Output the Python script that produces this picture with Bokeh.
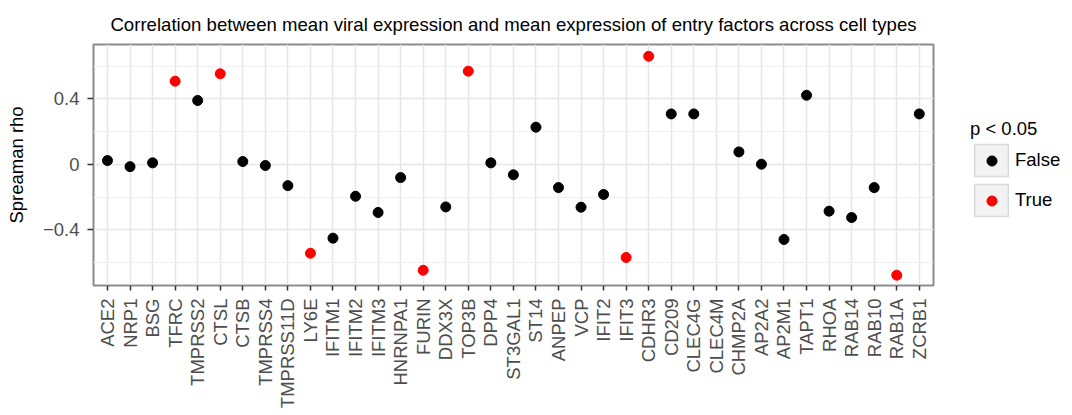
import numpy as np
from bokeh.plotting import figure
from bokeh.layouts import row
from bokeh.models import (ColumnDataSource, Range1d, FixedTicker, Legend, LegendItem)
from bokeh.embed import file_html
from bokeh.resources import INLINE

genes = ["ACE2", "NRP1", "BSG", "TFRC", "TMPRSS2", "CTSL", "CTSB", "TMPRSS4",
         "TMPRSS11D", "LY6E", "IFITM1", "IFITM2", "IFITM3", "HNRNPA1", "FURIN",
         "DDX3X", "TOP3B", "DPP4", "ST3GAL1", "ST14", "ANPEP", "VCP", "IFIT2",
         "IFIT3", "CDHR3", "CD209", "CLEC4G", "CLEC4M", "CHMP2A", "AP2A2",
         "AP2M1", "TAPT1", "RHOA", "RAB14", "RAB10", "RAB1A", "ZCRB1"]
rho = [0.023, -0.014, 0.009, 0.508, 0.390, 0.553, 0.017, -0.007,
       -0.130, -0.543, -0.451, -0.195, -0.294, -0.081, -0.647,
       -0.260, 0.569, 0.009, -0.064, 0.227, -0.142, -0.262, -0.184,
       -0.569, 0.660, 0.308, 0.308, np.nan, 0.076, 0.001,
       -0.459, 0.422, -0.286, -0.325, -0.142, -0.677, 0.308]
significant = [False, False, False, True, False, True, False, False,
               False, True, False, False, False, False, True,
               False, True, False, False, False, False, False, False,
               True, True, False, False, False, False, False,
               False, False, False, False, False, True, False]
y_ticks = [-0.4, 0, 0.4]
y_tick_labels = ["\u22120.4", "0", "0.4"]
y_minor = [-0.6, -0.2, 0.2, 0.6]
legend_title = "p < 0.05"
legend_labels = ["False", "True"]
legend_colors = ["black", "red"]

FONT = "Liberation Sans"
FS = "18.5px"
xs = np.arange(len(genes))
rho_a = np.array(rho, dtype=float)
sig_a = np.array(significant)

src_f = ColumnDataSource(dict(x=xs[~sig_a], y=rho_a[~sig_a]))
src_t = ColumnDataSource(dict(x=xs[sig_a], y=rho_a[sig_a]))

p = figure(width=941, height=415, output_backend="svg", toolbar_location=None,
           x_range=Range1d(-0.62, len(genes) - 1 + 0.63),
           y_range=Range1d(-0.740, 0.732),
           min_border_left=93, min_border_right=8, min_border_top=44,
           min_border_bottom=130)

p.title.text = "Correlation between mean viral expression and mean expression of entry factors across cell types"
p.title.align = "center"
p.title.text_font = FONT
p.title.text_font_size = "18.6px"
p.title.text_font_style = "normal"
p.title.text_color = "#000000"
p.title.standoff = 20
p.title.offset = 2

p.background_fill_color = "white"
p.outline_line_color = "#8C8C8C"
p.outline_line_width = 2

# grids
p.xgrid.ticker = FixedTicker(ticks=list(xs))
p.xgrid.grid_line_color = "#E6E6E6"
p.xgrid.grid_line_width = 1.5
p.ygrid.ticker = FixedTicker(ticks=y_ticks, minor_ticks=y_minor)
p.ygrid.grid_line_color = "#E6E6E6"
p.ygrid.grid_line_width = 1.5
p.ygrid.minor_grid_line_color = "#F0F0F0"
p.ygrid.minor_grid_line_width = 1.2

# axes
xa = p.xaxis[0]
xa.ticker = FixedTicker(ticks=list(xs))
xa.major_label_overrides = {int(i): g for i, g in zip(xs, genes)}
xa.major_label_orientation = np.pi / 2
ya = p.yaxis[0]
ya.ticker = FixedTicker(ticks=y_ticks)
ya.major_label_overrides = {t: l for t, l in zip(y_ticks, y_tick_labels)}
ya.axis_label = "Spreaman rho"
for ax in (xa, ya):
    ax.axis_line_color = None
    ax.major_tick_line_color = "#333333"
    ax.major_tick_line_width = 1.5
    ax.major_tick_in = 0
    ax.minor_tick_line_color = None
    ax.major_label_text_font = FONT
    ax.major_label_text_font_size = FS
    ax.major_label_text_color = "#4D4D4D"
    ax.axis_label_text_font = FONT
    ax.axis_label_text_font_size = FS
    ax.axis_label_text_font_style = "normal"
    ax.axis_label_text_color = "#000000"
xa.major_tick_out = 5
xa.major_label_standoff = 8
ya.major_tick_out = 6
ya.major_label_standoff = 8
ya.axis_label_standoff = 13

p.scatter("x", "y", source=src_f, size=10, color=legend_colors[0])
p.scatter("x", "y", source=src_t, size=10, color=legend_colors[1])

# ---- legend panel (separate figure, no axes) ----
lp = figure(width=131, height=415, output_backend="svg", toolbar_location=None,
            x_range=Range1d(0, 1), y_range=Range1d(0, 1),
            x_axis_location=None, y_axis_location=None,
            min_border_left=0, min_border_right=0, min_border_top=0,
            min_border_bottom=0)
lp.outline_line_color = None
lp.xgrid.visible = False
lp.ygrid.visible = False
lp.background_fill_color = None
lp.border_fill_color = None

# legend keys: renderers with NaN positions (only shown in the legend)
box = lp.rect(x=[np.nan], y=[np.nan], width=1, height=1, fill_color="#F2F2F2",
              line_color="#D9D9D9", line_width=1.5)
k_f = lp.scatter(x=[np.nan], y=[np.nan], size=10, color=legend_colors[0])
k_t = lp.scatter(x=[np.nan], y=[np.nan], size=10, color=legend_colors[1])

leg_a = Legend(items=[LegendItem(label=legend_labels[0], renderers=[box]),
                      LegendItem(label=legend_labels[1], renderers=[box])],
               title=legend_title, location=(29, 65))
leg_a.title_text_font = FONT
leg_a.title_text_font_size = FS
leg_a.title_text_font_style = "normal"
leg_a.title_text_color = "#000000"
leg_a.title_standoff = 0
leg_a.label_text_font = FONT
leg_a.label_text_font_size = FS
leg_a.label_text_color = "#000000"
leg_a.glyph_width = 42
leg_a.glyph_height = 40
leg_a.spacing = 0
leg_a.label_standoff = 3

leg_b = Legend(items=[LegendItem(label=" ", renderers=[k_f]),
                      LegendItem(label=" ", renderers=[k_t])],
               location=(38, 72))
leg_b.glyph_width = 25
leg_b.glyph_height = 25
leg_b.spacing = 15
leg_b.label_text_font_size = "1px"
leg_b.label_standoff = 0

for lg in (leg_a, leg_b):
    lg.padding = 0
    lg.margin = 0
    lg.border_line_color = None
    lg.background_fill_alpha = 0
    lp.add_layout(lg)

layout = row(p, lp, spacing=0)
open("out.html", "w").write(file_html(layout, INLINE))
